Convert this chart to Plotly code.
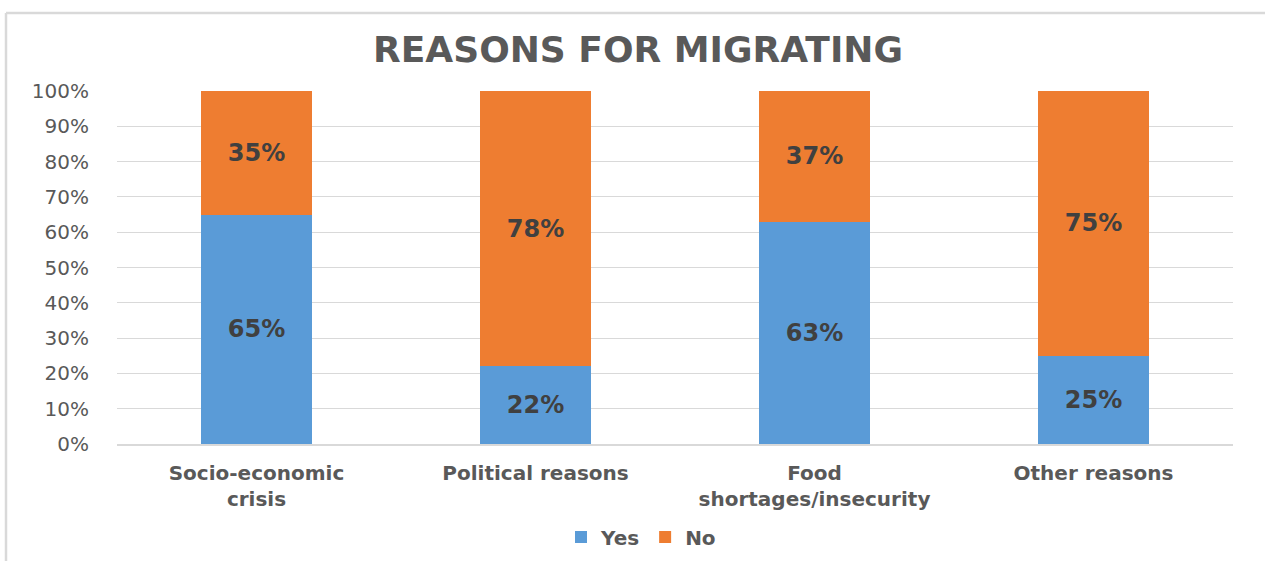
import plotly.graph_objects as go

categories = ["Socio-economic<br>crisis", "Political reasons", "Food<br>shortages/insecurity", "Other reasons"]
yes_values = [65, 22, 63, 25]
no_values = [35, 78, 37, 75]
y_ticks = [0, 10, 20, 30, 40, 50, 60, 70, 80, 90, 100]

W, H = 1265, 561
L, R, T, B = 117, 32, 91, 117
pw, ph = W - L - R, H - T - B

def px_x(x):
    return (x - L) / pw

def px_y(y):
    return (H - B - y) / ph

label_font = dict(family="DejaVu Sans", size=24, color="#404040", weight="bold")

fig = go.Figure()
fig.add_trace(go.Bar(
    name="Yes", x=categories, y=yes_values,
    marker=dict(color="#5A9BD7", line=dict(width=0)),
    text=[f"{v}%" for v in yes_values], textposition="inside",
    insidetextanchor="middle", textfont=label_font, constraintext="none",
    hoverinfo="skip",
))
fig.add_trace(go.Bar(
    name="No", x=categories, y=no_values,
    marker=dict(color="#EE7D31", line=dict(width=0)),
    text=[f"{v}%" for v in no_values], textposition="inside",
    insidetextanchor="middle", textfont=label_font, constraintext="none",
    hoverinfo="skip",
))

frame_col = "#D9D9D9"
shapes = [
    dict(type="line", xref="paper", yref="paper", x0=px_x(6), x1=px_x(6), y0=px_y(13), y1=px_y(H + 5),
         line=dict(color=frame_col, width=2.5)),
    dict(type="line", xref="paper", yref="paper", x0=px_x(6), x1=px_x(W + 5), y0=px_y(13), y1=px_y(13),
         line=dict(color=frame_col, width=2.5)),
]

fig.update_layout(
    width=W, height=H,
    margin=dict(l=L, r=R, t=T, b=B, autoexpand=False),
    barmode="stack", bargap=0.6,
    paper_bgcolor="white", plot_bgcolor="white",
    font=dict(family="DejaVu Sans", color="#595959"),
    title=dict(text="<b>REASONS FOR MIGRATING</b>", x=638 / W, xref="container", xanchor="center",
               y=1 - 49 / H, yref="container", yanchor="middle",
               font=dict(family="DejaVu Sans", size=36, color="#595959")),
    legend=dict(orientation="h", x=641 / W, xref="container", xanchor="center",
                y=1 - 537 / H, yref="container", yanchor="middle",
                font=dict(family="DejaVu Sans", size=20, color="#595959", weight="bold"),
                itemwidth=30, traceorder="normal", itemclick=False),
    shapes=shapes,
    showlegend=True,
)
fig.update_xaxes(
    tickfont=dict(family="DejaVu Sans", size=20, color="#595959", weight="bold"),
    ticks="outside", ticklen=10, tickcolor="rgba(0,0,0,0)",
    showline=True, linecolor="#D9D9D9", linewidth=1.5, showgrid=False,
)
fig.update_yaxes(
    range=[0, 100], tickvals=y_ticks, ticktext=[f"{v}%" for v in y_ticks],
    tickfont=dict(family="DejaVu Sans", size=20, color="#595959"),
    showgrid=True, gridcolor="#D9D9D9", gridwidth=1,
    ticks="outside", ticklen=23, tickcolor="rgba(0,0,0,0)",
    zeroline=False, showline=False,
)

fig.write_html("out.html", config={"displayModeBar": False},
               post_script="document.body.style.margin='0';")
